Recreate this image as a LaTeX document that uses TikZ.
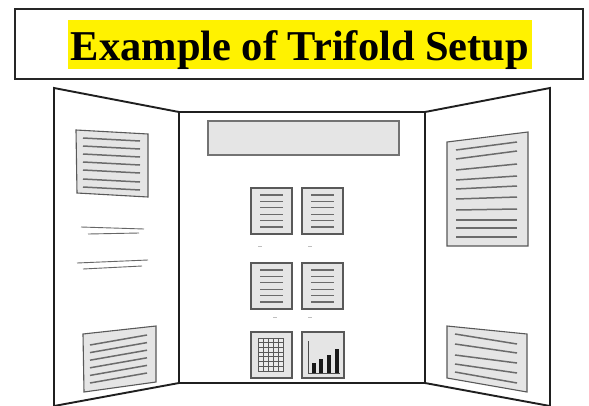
\documentclass[tikz,border=0pt]{standalone}
\usepackage{fontspec}
\setmainfont{Liberation Serif}
\begin{document}
\begin{tikzpicture}[x=1pt,y=-1pt,
  panel/.style={draw=black!88,line width=1.9pt,line join=miter},
  block/.style={draw=black!65,fill=black!10,line width=1.1pt},
  txtline/.style={draw=black!58,line width=1.5pt},
  thinline/.style={draw=black!60,line width=0.9pt},
  faint/.style={draw=black!25,line width=0.6pt}]
\useasboundingbox (0,0) rectangle (589,405);
\clip (0,0) rectangle (589,405);
\fill[white] (0,0) rectangle (589,405);
% title
\draw[draw=black!85,line width=1.6pt] (15,9) rectangle (583,79);
\node[fill=yellow,inner xsep=3pt,inner ysep=0pt,text height=40pt,text depth=9pt,anchor=base,font=\fontsize{42.5}{46}\selectfont\bfseries] (title) at (300,60) {Example of Trifold Setup};
% panels
\draw[panel] (179,112) -- (54,88) -- (54,410);
\draw[panel] (54,406) -- (179,383);
\draw[panel] (425,112) -- (550,88) -- (550,410);
\draw[panel] (550,406) -- (425,383);
\draw[panel] (179,112) rectangle (425,383);
% left top block
\draw[block] (76,130) -- (148,134) -- (148,197) -- (77,193) -- cycle;
\foreach \y in {138,146,154,162,170,179,187}
  \draw[txtline] (83,\y) -- (140,\y+3);
% left middle lines
\draw[thinline] (81,227) -- (144,229);
\draw[thinline] (88,234) -- (139,233);
\draw[thinline] (77,263) -- (148,260);
\draw[thinline] (83,269) -- (142,266);
% left bottom block
\draw[block] (83,334) -- (156,326) -- (156,382) -- (84,392) -- cycle;
\foreach \i in {0,...,5}
  \draw[txtline] (90,345+7.6*\i) -- (147,335+7.6*\i);
% right top block
\draw[block] (447,142) -- (528,132) -- (528,246) -- (447,246) -- cycle;
\foreach \a/\b in {150/142,159/151,170/164,180/176,189/186,199/197,210/209,220/220,228/228,237/237}
  \draw[txtline] (456,\a) -- (517,\b);
% right bottom block
\draw[block] (447,326) -- (527,334) -- (527,392) -- (447,378) -- cycle;
\foreach \a/\b in {334/344,344/353,355/363,364/373,372/383}
  \draw[txtline] (455,\a) -- (517,\b);
% center title bar
\draw[draw=black!55,fill=black!10,line width=1.1pt] (208,121) rectangle (399,155);
% document boxes
\foreach \x in {251,302}{
  \foreach \t in {188,263}{
    \draw[block] (\x,\t) rectangle (\x+41,\t+46);
    \foreach \i in {0,...,5}
      \draw[draw=black!58,line width=1.1pt] (\x+9,\t+7+6.4*\i) -- (\x+32,\t+7+6.4*\i);
  }
}
% faint marks
\draw[faint] (258,246) -- (262,246);
\draw[faint] (308,246) -- (312,246);
\draw[faint] (273,317) -- (277,317);
\draw[faint] (308,317) -- (312,317);
% grid box
\draw[block] (251,332) rectangle (292,378);
\draw[draw=black!65,line width=0.8pt,fill=black!8] (258,338) rectangle (283,371);
\foreach \i in {1,...,4}
  \draw[draw=black!65,line width=0.8pt] (258+5*\i,338) -- (258+5*\i,371);
\foreach \i in {1,...,6}
  \draw[draw=black!65,line width=0.8pt] (258,338+33/7*\i) -- (283,338+33/7*\i);
% chart box
\draw[block] (302,332) rectangle (344,378);
\draw[draw=black!70,line width=0.7pt] (308,341) -- (308,373) -- (340,373);
\foreach \l/\t in {312/363,319/359,327/355,335/349}
  \fill[black!90] (\l,\t) rectangle (\l+4,373);
\end{tikzpicture}
\end{document}
